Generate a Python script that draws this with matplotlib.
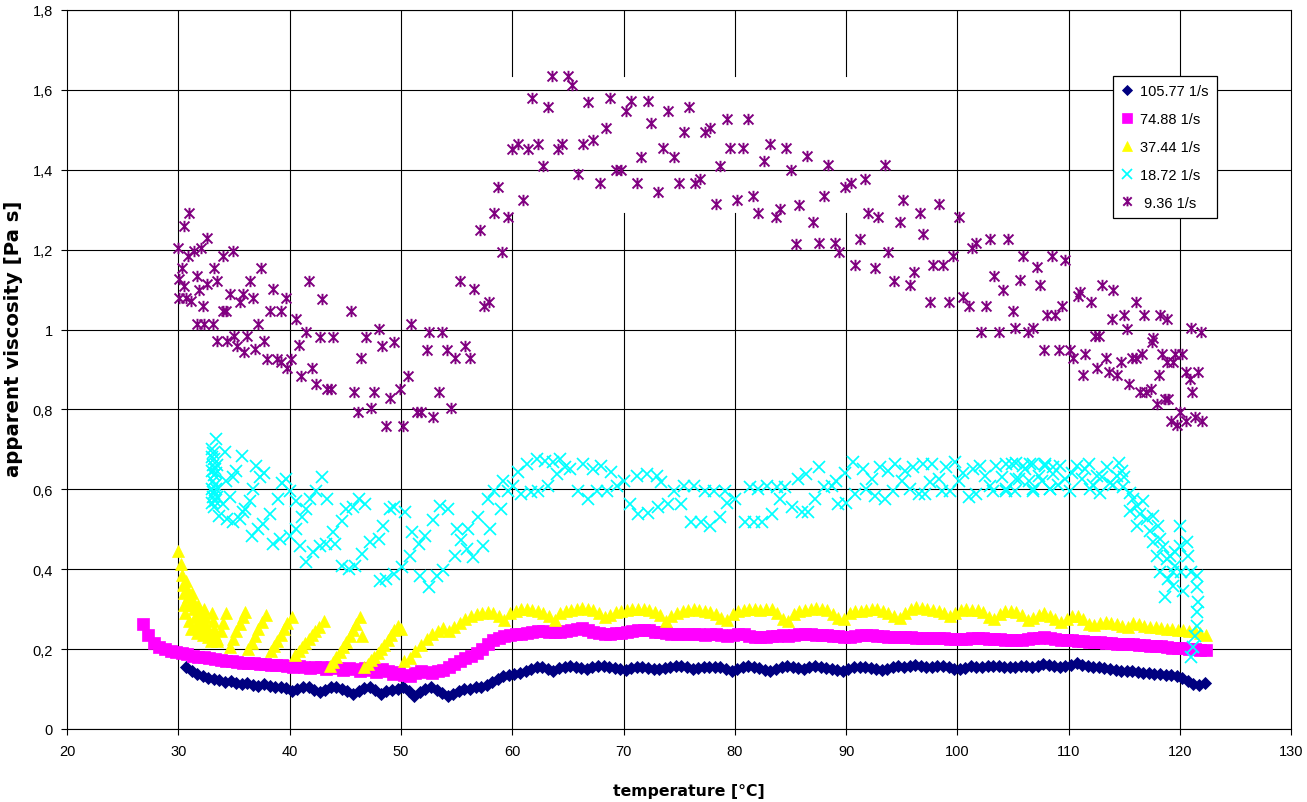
import numpy as np
import matplotlib
matplotlib.use("Agg")
import matplotlib.pyplot as plt
from matplotlib.path import Path

plt.rcParams['font.family'] = ['Liberation Sans', 'DejaVu Sans']

# ---------------- data ----------------
series_labels = ["105.77 1/s", "74.88 1/s", "37.44 1/s", "18.72 1/s", " 9.36 1/s"]
x_ticks = [20, 30, 40, 50, 60, 70, 80, 90, 100, 110, 120, 130]
y_ticks = [0, 0.2, 0.4, 0.6, 0.8, 1.0, 1.2, 1.4, 1.6, 1.8]
y_tick_labels = ["0", "0,2", "0,4", "0,6", "0,8", "1", "1,2", "1,4", "1,6", "1,8"]

# 105.77 1/s : temperatures sampled evenly from t_start to t_end
blue_t_start, blue_t_end = 30.7, 122.2
blue_v = [0.155, 0.145, 0.138, 0.132, 0.128, 0.125, 0.122, 0.118, 0.120, 0.115,
          0.112, 0.115, 0.110, 0.108, 0.112, 0.108, 0.104, 0.106, 0.102, 0.096,
          0.100, 0.106, 0.104, 0.098, 0.092, 0.098, 0.104, 0.106, 0.100, 0.094,
          0.088, 0.095, 0.102, 0.106, 0.098, 0.088, 0.094, 0.098, 0.100, 0.104,
          0.094, 0.083, 0.092, 0.100, 0.105, 0.098, 0.090, 0.083, 0.088, 0.094,
          0.100, 0.100, 0.104, 0.106, 0.110, 0.118, 0.126, 0.132, 0.135, 0.138,
          0.140, 0.145, 0.150, 0.154, 0.155, 0.150, 0.146, 0.152, 0.156, 0.158,
          0.155, 0.152, 0.150, 0.154, 0.158, 0.158, 0.155, 0.152, 0.150, 0.148,
          0.152, 0.156, 0.156, 0.153, 0.150, 0.150, 0.153, 0.156, 0.158, 0.157,
          0.154, 0.150, 0.152, 0.155, 0.156, 0.155, 0.154, 0.150, 0.146, 0.150,
          0.155, 0.157, 0.155, 0.152, 0.148, 0.146, 0.150, 0.155, 0.158, 0.156,
          0.152, 0.150, 0.154, 0.157, 0.156, 0.152, 0.150, 0.147, 0.145, 0.150,
          0.154, 0.156, 0.155, 0.152, 0.149, 0.147, 0.151, 0.155, 0.157, 0.156,
          0.158, 0.160, 0.157, 0.154, 0.155, 0.158, 0.157, 0.154, 0.151, 0.150,
          0.153, 0.157, 0.156, 0.155, 0.157, 0.158, 0.157, 0.155, 0.154, 0.156,
          0.158, 0.157, 0.155, 0.158, 0.162, 0.160, 0.157, 0.156, 0.158, 0.160,
          0.164, 0.160, 0.157, 0.156, 0.155, 0.152, 0.150, 0.148, 0.146, 0.146,
          0.144, 0.142, 0.140, 0.140, 0.138, 0.138, 0.136, 0.134, 0.132, 0.128,
          0.120, 0.112, 0.110, 0.115]

# 74.88 1/s
mag_t_start, mag_t_end = 26.8, 122.3
mag_v = [0.262, 0.235, 0.215, 0.205, 0.200, 0.196, 0.193, 0.190, 0.187, 0.184,
         0.181, 0.179, 0.177, 0.175, 0.172, 0.170, 0.169, 0.168, 0.166, 0.165,
         0.164, 0.163, 0.162, 0.161, 0.160, 0.160, 0.158, 0.156, 0.158, 0.155,
         0.152, 0.156, 0.154, 0.150, 0.155, 0.152, 0.147, 0.153, 0.150, 0.145,
         0.152, 0.148, 0.142, 0.150, 0.146, 0.138, 0.142, 0.135, 0.133, 0.140,
         0.145, 0.142, 0.140, 0.145, 0.148, 0.155, 0.163, 0.170, 0.178, 0.183,
         0.190, 0.200, 0.212, 0.222, 0.228, 0.232, 0.235, 0.237, 0.238, 0.240,
         0.243, 0.246, 0.245, 0.243, 0.242, 0.244, 0.246, 0.248, 0.250, 0.252,
         0.249, 0.244, 0.241, 0.239, 0.238, 0.240, 0.240, 0.242, 0.245, 0.248,
         0.249, 0.247, 0.244, 0.243, 0.241, 0.239, 0.238, 0.238, 0.239, 0.238,
         0.237, 0.236, 0.237, 0.238, 0.236, 0.234, 0.235, 0.238, 0.237, 0.233,
         0.231, 0.230, 0.231, 0.233, 0.234, 0.235, 0.234, 0.236, 0.238, 0.239,
         0.238, 0.236, 0.235, 0.236, 0.234, 0.232, 0.230, 0.231, 0.233, 0.235,
         0.236, 0.235, 0.233, 0.232, 0.231, 0.230, 0.230, 0.231, 0.230, 0.229,
         0.228, 0.229, 0.228, 0.227, 0.227, 0.226, 0.226, 0.225, 0.226, 0.227,
         0.228, 0.227, 0.226, 0.225, 0.225, 0.224, 0.224, 0.223, 0.224, 0.225,
         0.227, 0.229, 0.230, 0.228, 0.226, 0.224, 0.223, 0.222, 0.221, 0.220,
         0.219, 0.218, 0.217, 0.216, 0.215, 0.214, 0.213, 0.213, 0.212, 0.211,
         0.210, 0.209, 0.208, 0.207, 0.206, 0.204, 0.203, 0.202, 0.201, 0.200,
         0.199, 0.199]

# 37.44 1/s : irregular start (read point by point) ...
yel_early_t = [30.0, 30.2, 30.3, 30.4, 30.5, 30.5, 30.6, 30.7, 30.8, 30.9, 31.0, 31.0,
               31.1, 31.2, 31.3, 31.4, 31.5, 31.6, 31.7, 31.8, 31.9, 32.0, 32.1, 32.2,
               32.3, 32.4, 32.5, 32.6, 32.7, 32.9, 33.0, 33.1, 33.2, 33.3, 33.5,
               33.5, 33.8, 34.0, 34.3,
               34.6, 34.9, 35.2, 35.5, 35.8, 36.0,
               36.3, 36.6, 36.9, 37.2, 37.5, 37.9,
               38.3, 38.6, 38.9, 39.2, 39.5, 39.8, 40.2,
               40.5, 40.8, 41.1, 41.4, 41.7, 42.0, 42.3, 42.6, 43.1,
               43.6, 43.9, 44.2, 44.5, 44.8, 45.1, 45.4, 45.7, 46.0, 46.3, 46.5,
               46.7, 47.0, 47.3, 47.6, 47.9, 48.2, 48.5, 48.8, 49.1, 49.4, 49.7, 50.0]
yel_early_v = [0.445, 0.412, 0.385, 0.360, 0.340, 0.310, 0.290, 0.370, 0.350, 0.330, 0.310, 0.270,
               0.250, 0.340, 0.320, 0.300, 0.280, 0.260, 0.240, 0.310, 0.290, 0.270, 0.250, 0.235,
               0.300, 0.280, 0.260, 0.245, 0.230, 0.220, 0.290, 0.270, 0.250, 0.235, 0.225,
               0.220, 0.245, 0.265, 0.290,
               0.205, 0.225, 0.245, 0.262, 0.280, 0.293,
               0.200, 0.215, 0.232, 0.250, 0.267, 0.285,
               0.195, 0.208, 0.220, 0.235, 0.250, 0.265, 0.280,
               0.185, 0.195, 0.205, 0.215, 0.225, 0.235, 0.245, 0.255, 0.270,
               0.158, 0.168, 0.180, 0.192, 0.205, 0.218, 0.232, 0.248, 0.262, 0.280, 0.234,
               0.155, 0.163, 0.172, 0.180, 0.190, 0.200, 0.210, 0.222, 0.235, 0.248, 0.258, 0.250]
# ... then evenly sampled
yel_t_start, yel_t_end = 50.3, 122.3
yel_v = [0.170, 0.178, 0.195, 0.210, 0.225, 0.238, 0.245, 0.252, 0.245, 0.255,
         0.265, 0.276, 0.284, 0.288, 0.290, 0.292, 0.290, 0.282, 0.274, 0.290,
         0.296, 0.300, 0.300, 0.298, 0.296, 0.290, 0.282, 0.274, 0.290, 0.296,
         0.299, 0.301, 0.302, 0.300, 0.297, 0.290, 0.280, 0.285, 0.292, 0.296,
         0.298, 0.300, 0.301, 0.300, 0.297, 0.292, 0.285, 0.270, 0.282, 0.290,
         0.295, 0.298, 0.300, 0.298, 0.295, 0.292, 0.288, 0.278, 0.272, 0.288,
         0.295, 0.298, 0.300, 0.300, 0.299, 0.300, 0.300, 0.290, 0.275, 0.270,
         0.288, 0.296, 0.298, 0.300, 0.302, 0.300, 0.299, 0.288, 0.278, 0.275,
         0.290, 0.295, 0.296, 0.298, 0.300, 0.300, 0.296, 0.290, 0.283, 0.278,
         0.290, 0.300, 0.305, 0.302, 0.300, 0.298, 0.295, 0.290, 0.284, 0.290,
         0.298, 0.300, 0.299, 0.297, 0.293, 0.280, 0.276, 0.288, 0.295, 0.296,
         0.292, 0.285, 0.273, 0.278, 0.285, 0.290, 0.282, 0.276, 0.268, 0.275,
         0.282, 0.284, 0.275, 0.262, 0.260, 0.265, 0.268, 0.266, 0.262, 0.258,
         0.256, 0.266, 0.262, 0.258, 0.255, 0.256, 0.252, 0.250, 0.250, 0.248,
         0.248, 0.246, 0.245, 0.240, 0.236]

# 18.72 1/s (read point by point)
cyan_t = [33.4, 33.0, 33.1, 33.0, 33.2, 33.1, 33.3, 33.0, 33.2, 33.1, 33.3, 33.0, 33.2,
          33.1, 33.3, 33.0, 33.2, 33.4, 33.4, 33.5, 33.5,
          34.2, 35.7, 37.0, 37.7, 37.3, 36.7, 35.2, 34.9, 34.3, 34.6, 34.0, 33.7, 34.4,
          34.9, 35.5, 36.0, 36.4, 35.8, 36.6, 37.2, 37.6, 38.2, 38.5, 39.1, 40.0, 40.6,
          40.9, 41.5, 42.1, 42.7, 43.3, 44.1, 43.9, 44.7, 45.1, 45.7, 46.2, 46.8, 44.7,
          45.3, 45.9, 46.5, 47.2, 48.0, 48.4, 48.1, 48.7, 49.0, 39.0, 39.3, 39.7, 40.0,
          40.6, 41.1, 41.5, 41.8, 42.4, 42.9, 43.4,
          49.4, 50.4, 49.4, 50.1, 50.8, 51.6, 51.0, 52.2, 52.9, 53.5, 54.2, 51.7, 52.5,
          53.2, 53.8, 54.9, 55.4, 55.9, 56.5, 55.0, 56.0, 56.9, 57.4, 58.0, 57.8, 58.4,
          59.0, 59.2, 59.6, 60.1, 60.5, 60.8, 61.3, 61.7, 62.2, 62.3, 62.9, 63.2, 63.7,
          64.3, 64.0, 64.7, 65.2, 65.9, 66.4, 66.8, 67.3, 67.6, 68.0, 68.5, 68.9, 69.4,
          70.0, 70.6, 71.2, 71.3, 72.1, 72.2, 73.0, 73.1, 73.4, 74.0, 74.5, 75.2, 75.4,
          76.1, 76.3, 77.0, 77.3, 77.8, 78.1, 78.7, 79.1, 79.3,
          80.0, 80.9, 81.7, 82.4, 83.3, 81.4, 82.1, 82.9, 83.8, 84.1, 84.5, 85.1, 85.7,
          86.0, 86.6, 86.4, 87.2, 87.6, 88.0, 88.7, 89.1, 89.3, 89.9, 90.0, 90.6, 90.8,
          91.5, 91.8, 92.3, 92.6, 93.0, 93.5, 93.8, 94.4, 94.2, 95.0, 95.3, 95.7, 96.0,
          96.5, 96.9, 97.1, 97.5, 97.7, 98.3, 98.6, 99.0, 99.3, 99.8, 100.1, 100.5, 101.0,
          101.4, 101.7, 102.0, 102.5, 102.9, 103.2, 103.5,
          104.0, 104.4, 104.9, 105.2, 105.5, 105.9, 106.4, 106.8, 106.8, 107.6, 107.9,
          108.3, 108.6,
          104.4, 104.4, 105.3, 105.3, 106.1, 106.5, 106.8, 107.3, 107.9, 108.3, 108.6,
          109.2, 109.7, 110.1, 110.7, 111.2, 111.8, 111.9, 112.5, 112.8, 113.4, 113.7,
          114.3, 114.8, 114.9, 109.0, 110.3, 111.5, 112.2, 113.0, 114.0, 115.0, 114.5,
          115.5, 115.8, 116.1, 115.5, 116.4, 116.7, 116.1, 117.0, 117.3, 117.6, 118.0,
          118.2, 117.6, 118.5, 117.9, 118.8, 118.2, 118.9, 118.6, 119.4, 119.5, 120.0,
          120.0, 120.6, 120.7, 120.1, 120.3, 121.0, 121.5, 121.5, 121.6, 121.5, 121.5,
          121.3, 121.2, 121.0, 119.4, 119.5, 119.1]
cyan_v = [0.726, 0.700, 0.690, 0.680, 0.675, 0.660, 0.650, 0.645, 0.635, 0.620, 0.610, 0.600, 0.590,
          0.580, 0.570, 0.565, 0.555, 0.640, 0.600, 0.580, 0.660,
          0.693, 0.684, 0.659, 0.642, 0.630, 0.600, 0.647, 0.630, 0.622, 0.580, 0.563, 0.534, 0.526,
          0.518, 0.526, 0.550, 0.572, 0.543, 0.484, 0.501, 0.513, 0.538, 0.463, 0.476, 0.484, 0.501,
          0.459, 0.417, 0.442, 0.459, 0.463, 0.463, 0.492, 0.521, 0.550, 0.555, 0.575, 0.563, 0.409,
          0.400, 0.409, 0.438, 0.468, 0.476, 0.509, 0.371, 0.375, 0.550, 0.575, 0.617, 0.626, 0.597,
          0.572, 0.530, 0.550, 0.575, 0.597, 0.630, 0.575,
          0.555, 0.543, 0.388, 0.405, 0.434, 0.463, 0.492, 0.484, 0.522, 0.559, 0.550, 0.384, 0.355,
          0.384, 0.397, 0.434, 0.472, 0.450, 0.430, 0.500, 0.500, 0.530, 0.459, 0.500, 0.576, 0.597,
          0.550, 0.622, 0.597, 0.609, 0.643, 0.588, 0.664, 0.593, 0.676, 0.597, 0.672, 0.609, 0.668,
          0.676, 0.638, 0.655, 0.651, 0.597, 0.664, 0.576, 0.651, 0.597, 0.659, 0.597, 0.643, 0.609,
          0.622, 0.563, 0.634, 0.538, 0.638, 0.542, 0.634, 0.555, 0.618, 0.563, 0.597, 0.563, 0.609,
          0.518, 0.609, 0.518, 0.597, 0.509, 0.597, 0.530, 0.597, 0.567,
          0.576, 0.518, 0.518, 0.518, 0.538, 0.605, 0.601, 0.609, 0.605, 0.576, 0.605, 0.555, 0.626,
          0.543, 0.543, 0.638, 0.576, 0.655, 0.605, 0.609, 0.622, 0.563, 0.642, 0.567, 0.668, 0.588,
          0.651, 0.601, 0.626, 0.584, 0.655, 0.576, 0.647, 0.663, 0.597, 0.622, 0.647, 0.601, 0.655,
          0.588, 0.664, 0.588, 0.618, 0.664, 0.626, 0.597, 0.655, 0.597, 0.668, 0.622, 0.642, 0.580,
          0.651, 0.588, 0.659, 0.634, 0.609, 0.597, 0.659,
          0.630, 0.597, 0.664, 0.597, 0.626, 0.659, 0.622, 0.664, 0.597, 0.622, 0.659,
          0.601, 0.655,
          0.663, 0.600, 0.667, 0.626, 0.650, 0.663, 0.600, 0.634, 0.663, 0.600, 0.638,
          0.659, 0.626, 0.596, 0.659, 0.626, 0.663, 0.600, 0.634, 0.592, 0.655, 0.617,
          0.634, 0.647, 0.605, 0.610, 0.640, 0.650, 0.610, 0.630, 0.610, 0.630, 0.665,
          0.592, 0.576, 0.559, 0.547, 0.538, 0.572, 0.509, 0.526, 0.496, 0.534, 0.509,
          0.476, 0.467, 0.455, 0.434, 0.426, 0.392, 0.375, 0.330, 0.359, 0.409, 0.459,
          0.509, 0.467, 0.434, 0.392, 0.346, 0.392, 0.384, 0.355, 0.317, 0.292, 0.259,
          0.234, 0.205, 0.180, 0.392, 0.442, 0.434]

# 9.36 1/s (read point by point)
purple_t = [31.0, 30.5, 29.95, 30.3, 30.1, 30.5, 30.1, 30.7, 31.1, 30.9, 31.4, 32.0, 32.6, 31.7,
            31.9, 32.6, 32.2, 31.7, 32.3, 33.1, 33.2, 33.5, 34.0, 34.9, 34.6, 34.0, 34.3, 35.8,
            35.5, 36.7, 36.4, 37.4, 38.5, 38.2, 39.2, 39.7, 37.2, 33.5, 34.4, 35.0, 35.3, 36.2,
            35.9, 36.9, 37.7, 38.0, 38.9, 39.2, 39.8, 40.1, 40.6, 41.5, 40.8, 42.7, 42.9, 41.7,
            43.9, 45.5, 41.0, 42.0, 42.4, 43.4, 43.7, 45.8, 46.1, 47.3, 46.4, 46.9, 48.0, 48.3,
            49.4, 50.9, 50.6, 49.9, 49.0, 47.6, 48.7, 50.2, 51.4, 51.8, 52.9, 52.5, 53.7, 52.3,
            53.4, 54.1, 54.5, 54.9, 55.8, 56.2, 55.3, 56.6, 57.5, 57.9, 57.1, 58.4, 58.7,
            59.1, 59.6, 61.0, 60.0, 60.5, 61.4, 62.3, 62.8, 61.8, 63.2, 63.6, 65.0, 65.4, 64.1,
            64.5, 65.9, 66.4, 66.8, 67.3, 67.9, 68.4, 68.8, 69.3, 69.8, 70.2, 70.7, 71.6, 71.2,
            72.2, 72.5, 73.1, 73.5, 74.0, 74.5, 75.0, 75.4, 75.9, 76.4, 76.9, 77.3, 77.8, 78.3,
            78.7, 79.3, 79.6, 80.2, 80.7, 81.2, 81.6, 82.1, 82.6, 83.2, 83.7, 84.1, 84.6, 85.0,
            85.5, 85.8,
            86.5, 88.4, 93.5, 87.0, 88.0, 89.9, 90.4, 91.7, 87.6, 89.0, 89.4, 91.2, 90.8, 92.6,
            92.0, 92.9, 93.8, 94.8, 95.1, 96.6, 96.9, 98.3, 100.1, 94.3, 95.7, 96.1, 97.8, 98.7,
            99.6, 97.5, 99.2, 100.5, 101.0, 101.3, 101.7, 102.9, 102.6, 103.3, 102.1, 103.7,
            104.5, 105.9, 107.1, 108.5, 109.7, 104.1, 105.6, 107.4, 105.0, 108.0, 108.8, 109.4,
            105.2, 106.3, 106.8, 107.8, 109.1, 110.1, 110.4, 110.8, 111.0, 112.0, 111.5, 111.3,
            112.5, 113.0, 114.0, 112.4, 112.7, 113.3, 113.6, 114.3, 114.7, 113.9, 115.0, 115.2,
            116.0, 116.8, 118.2, 118.8, 115.4, 115.7, 116.0, 116.6, 116.4, 116.9, 117.4, 117.9,
            118.6, 118.9, 118.1, 117.5, 117.6, 118.4, 118.8, 119.4, 119.5, 120.2, 120.5, 120.9,
            121.6, 121.1, 121.0, 121.9, 120.0, 119.2, 119.7, 120.5, 121.3, 122.0]
purple_v = [1.293, 1.260, 1.205, 1.155, 1.126, 1.110, 1.080, 1.080, 1.072, 1.185, 1.197, 1.205, 1.228, 1.134,
            1.100, 1.113, 1.060, 1.014, 1.014, 1.014, 1.155, 1.122, 1.183, 1.197, 1.089, 1.047, 1.047, 1.089,
            1.068, 1.080, 1.122, 1.155, 1.101, 1.047, 1.047, 1.080, 1.014, 0.972, 0.972, 0.985, 0.959, 0.985,
            0.943, 0.951, 0.972, 0.926, 0.926, 0.918, 0.905, 0.926, 1.026, 0.993, 0.962, 0.982, 1.077, 1.122,
            0.982, 1.047, 0.884, 0.905, 0.864, 0.851, 0.852, 0.843, 0.793, 0.803, 0.928, 0.982, 1.002, 0.959,
            0.970, 1.014, 0.884, 0.852, 0.829, 0.843, 0.759, 0.759, 0.793, 0.793, 0.780, 0.993, 0.993, 0.949,
            0.843, 0.949, 0.803, 0.928, 0.960, 0.928, 1.122, 1.101, 1.060, 1.070, 1.249, 1.293, 1.358,
            1.195, 1.281, 1.325, 1.453, 1.464, 1.453, 1.464, 1.410, 1.579, 1.558, 1.634, 1.634, 1.612, 1.453,
            1.464, 1.389, 1.464, 1.569, 1.475, 1.366, 1.504, 1.579, 1.400, 1.400, 1.548, 1.571, 1.432, 1.366,
            1.571, 1.516, 1.345, 1.454, 1.548, 1.432, 1.366, 1.494, 1.558, 1.366, 1.378, 1.494, 1.504, 1.314,
            1.410, 1.527, 1.454, 1.324, 1.454, 1.527, 1.335, 1.292, 1.422, 1.464, 1.281, 1.302, 1.454, 1.400,
            1.215, 1.313,
            1.434, 1.412, 1.412, 1.270, 1.335, 1.356, 1.368, 1.378, 1.216, 1.216, 1.195, 1.226, 1.162, 1.154,
            1.291, 1.281, 1.195, 1.270, 1.324, 1.291, 1.238, 1.315, 1.281, 1.122, 1.112, 1.144, 1.162, 1.162,
            1.183, 1.070, 1.070, 1.081, 1.058, 1.205, 1.216, 1.226, 1.058, 1.133, 0.993, 0.993,
            1.226, 1.185, 1.156, 1.185, 1.174, 1.100, 1.124, 1.111, 1.047, 1.036, 1.036, 1.058,
            1.005, 0.995, 1.005, 0.950, 0.950, 0.950, 0.928, 1.083, 1.093, 1.068, 0.939, 0.886,
            0.905, 1.111, 1.100, 0.983, 0.983, 0.928, 0.894, 0.886, 0.918, 1.026, 1.036, 1.002,
            1.068, 1.036, 1.036, 1.026, 0.864, 0.928, 0.928, 0.939, 0.843, 0.843, 0.851, 0.813,
            0.825, 0.825, 0.886, 0.969, 0.980, 0.939, 0.918, 0.918, 0.939, 0.939, 0.894, 0.875,
            0.894, 0.843, 1.005, 0.993, 0.793, 0.770, 0.760, 0.770, 0.780, 0.770]

# ---------------- figure ----------------
W, H = 1307, 803
fig = plt.figure(figsize=(W / 100, H / 100), dpi=100)
fig.patch.set_facecolor('white')
ax = fig.add_axes([67 / W, 73 / H, 1224.4 / W, 719 / H])
ax.set_xlim(20, 130)
ax.set_ylim(0, 1.8)

blue_t = np.linspace(blue_t_start, blue_t_end, len(blue_v))
mag_t = np.linspace(mag_t_start, mag_t_end, len(mag_v))
yel_t = np.concatenate([yel_early_t, np.linspace(yel_t_start, yel_t_end, len(yel_v))])
yel_all = np.concatenate([yel_early_v, yel_v])

star = Path([(-1, -1), (1, 1), (-1, 1), (1, -1), (0, -1.15), (0, 1.15)],
            [Path.MOVETO, Path.LINETO, Path.MOVETO, Path.LINETO, Path.MOVETO, Path.LINETO])

h1, = ax.plot(blue_t, blue_v, ls='none', marker='D', ms=6.0, color='#000080',
              mec='#000080', mew=0.6, label=series_labels[0])
h2, = ax.plot(mag_t, mag_v, ls='none', marker='s', ms=8.4, color='#FF00FF',
              mec='#FF00FF', mew=0.5, label=series_labels[1])
h3, = ax.plot(yel_t, yel_all, ls='none', marker='^', ms=9.0, color='#FFFF00',
              mec='#FFFF00', mew=0.5, label=series_labels[2])
h4, = ax.plot(cyan_t, cyan_v, ls='none', marker='x', ms=8.0, color='#00FFFF',
              mew=1.25, label=series_labels[3])
h5, = ax.plot(purple_t, purple_v, ls='none', marker=star, ms=8.2, color='#800080',
              mfc='none', mew=1.4, label=series_labels[4])

ax.set_xticks(x_ticks)
ax.set_yticks(y_ticks)
ax.set_yticklabels(y_tick_labels)
ax.grid(True, axis='y', color='black', linewidth=0.8)
ax.set_axisbelow(True)
# vertical gridlines; in the original the ones at 60-90 are broken at legend height
gap_ticks = [60, 70, 80, 90]
gap_lo, gap_hi = 0.7177, 0.908
for xt in x_ticks[1:-1]:
    if xt in gap_ticks:
        ax.axvline(xt, 0, gap_lo, color='black', lw=0.8, zorder=0.5)
        ax.axvline(xt, gap_hi, 1, color='black', lw=0.8, zorder=0.5)
    else:
        ax.axvline(xt, 0, 1, color='black', lw=0.8, zorder=0.5)
for s in ax.spines.values():
    s.set_color('black')
    s.set_linewidth(0.8)
ax.tick_params(axis='both', direction='out', length=4, width=0.8, labelsize=10.5,
               colors='black')
ax.tick_params(axis='x', pad=7)
ax.tick_params(axis='y', pad=6)

leg = ax.legend(handles=[h1, h2, h3, h4, h5], loc='upper left',
                bbox_to_anchor=(0.854, 0.908), borderaxespad=0, frameon=True,
                fancybox=False, edgecolor='black', framealpha=1, fontsize=10.5,
                labelspacing=0.95, handlelength=0.9, handletextpad=0.45,
                borderpad=0.55, markerscale=0.85)
leg.get_frame().set_linewidth(0.9)

fig.text(689 / W, 1 - 792 / H, "temperature [°C]", ha='center', va='center',
         fontsize=11.3, fontweight='bold', family=['DejaVu Sans'])
fig.text(14 / W, 1 - 339 / H, "apparent viscosity [Pa s]", ha='center', va='center',
         rotation=90, fontsize=14.2, fontweight='bold', family=['DejaVu Sans'])

fig.savefig("out.png", dpi=100)
